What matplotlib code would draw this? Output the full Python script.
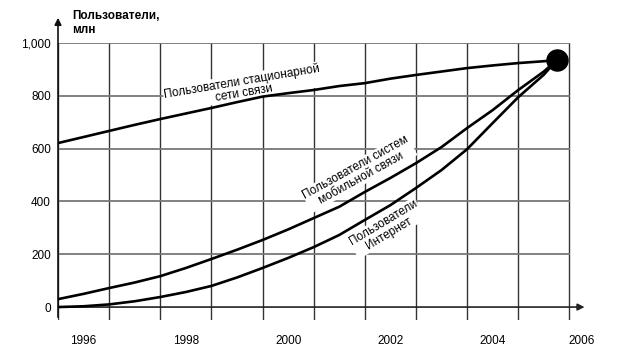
import matplotlib
matplotlib.use('Agg')
import matplotlib.pyplot as plt

plt.rcParams['font.family'] = ['Liberation Sans', 'DejaVu Sans']

# данные (x в годах, границы клеток на .5)
years = [1995.5, 1996, 1996.5, 1997, 1997.5, 1998, 1998.5, 1999, 1999.5, 2000, 2000.5,
         2001, 2001.5, 2002, 2002.5, 2003, 2003.5, 2004, 2004.5, 2005, 2005.25]
fixed_users = [621, 644, 667, 690, 712, 733, 754, 776, 797, 810, 822,
               837, 848, 865, 879, 892, 905, 915, 924, 931, 935]
mobile_users = [30, 50, 72, 93, 117, 148, 182, 217, 254, 294, 337,
                380, 436, 489, 545, 606, 678, 746, 822, 892, 935]
internet_users = [0, 3, 10, 22, 38, 57, 80, 112, 148, 186, 227,
                  273, 330, 386, 451, 519, 598, 697, 795, 880, 935]

x_ticks = [1996, 1998, 2000, 2002, 2004, 2006]
y_ticks = [0, 200, 400, 600, 800, 1000]
y_ticklabels = ['0', '200', '400', '600', '800', '1,000']
grid_x = [1995.5 + i for i in range(11)]

fig = plt.figure(figsize=(6.34, 3.58), dpi=100)
ax = fig.add_axes([58/634, 1-320/358, 537/634, 277/358])
ax.set_xlim(1995.5, 2005.5)
ax.set_ylim(-49, 1000)
for s in ax.spines.values():
    s.set_visible(False)

# сетка
for gx in grid_x:
    ax.plot([gx, gx], [-49, 1000], color='#333333', lw=1.0, zorder=1)
for gy in y_ticks[1:]:
    ax.plot([1995.5, 2005.5], [gy, gy], color='#777777', lw=1.3, zorder=1)

# оси со стрелками
ax.annotate('', xy=(2005.85, 0), xytext=(1995.5, 0), annotation_clip=False,
            arrowprops=dict(arrowstyle='-|>', color='#222222', lw=1.2, mutation_scale=10))
ax.annotate('', xy=(1995.5, 1106), xytext=(1995.5, -49), annotation_clip=False,
            arrowprops=dict(arrowstyle='-|>', color='#111111', lw=1.2, mutation_scale=10))

ax.plot(years, fixed_users, color='black', lw=1.9, zorder=3)
ax.plot(years, mobile_users, color='black', lw=1.9, zorder=3)
ax.plot(years, internet_users, color='black', lw=1.9, zorder=3)
ax.scatter([years[-1]], [fixed_users[-1]], s=230, color='black', zorder=4, clip_on=False)

ax.set_xticks(x_ticks)
ax.set_xticklabels([str(y) for y in x_ticks], fontsize=8.5)
ax.get_xticklabels()[-1].set_ha('right')
ax.set_yticks(y_ticks)
ax.set_yticklabels(y_ticklabels, fontsize=8.5)
ax.tick_params(length=0, pad=5)
ax.tick_params(axis='x', pad=11)

box = dict(facecolor='white', edgecolor='none', pad=0.5)
ax.text(1999.11, 833, 'Пользователи стационарной\nсети связи', fontsize=8.5,
        rotation=9.6, rotation_mode='anchor', ha='center', va='center',
        multialignment='center', bbox=box, zorder=2, linespacing=1.0)
ax.text(2001.38, 508, 'Пользователи систем\nмобильной связи', fontsize=8.5,
        rotation=29, rotation_mode='anchor', ha='center', va='center',
        multialignment='center', bbox=box, zorder=2, linespacing=1.0)
ax.text(2001.92, 299, 'Пользователи\nИнтернет', fontsize=8.5,
        rotation=31, rotation_mode='anchor', ha='center', va='center',
        multialignment='center', bbox=box, zorder=2, linespacing=1.0)

fig.text(72/634, 1-23/358, 'Пользователи,\nмлн', fontsize=8.5, fontweight='bold',
         ha='left', va='center', linespacing=1.15)

fig.savefig('out.png', dpi=100, facecolor='white')
